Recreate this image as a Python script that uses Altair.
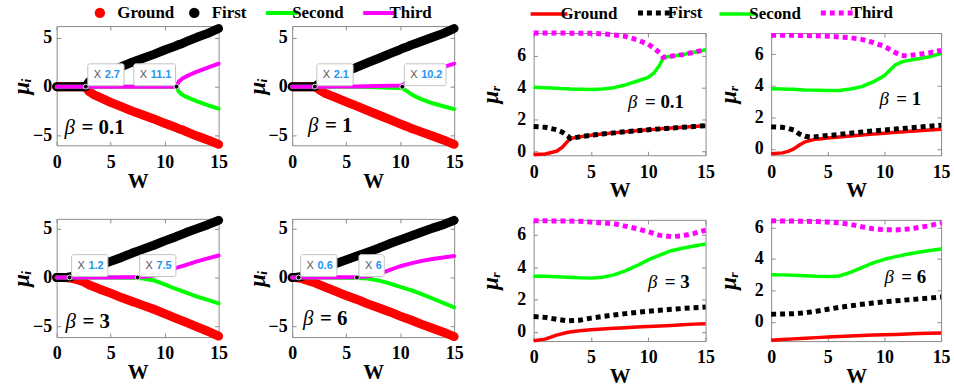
import altair as alt
import pandas as pd

SERIES = ["Ground", "First", "Second", "Third"]
COLORS = ["#ff0000", "#000000", "#00ff00", "#ff00ff"]
SERIF = "Liberation Serif"
SANS = "Liberation Sans"
X_TICKS = [0, 5, 10, 15]

# ---------------- imaginary parts mu_i versus W ----------------
# beta = 0.1
W_I01 = [0, 1, 2, 2.7, 3, 3.5, 4, 5, 6, 7, 8, 9, 10, 11, 11.1, 11.3, 11.6, 12, 13, 14, 15]
GROUND_I01 = [0, 0, 0, 0, -0.5, -0.85, -1.1, -1.6, -2.05, -2.5, -2.9, -3.3, -3.75, -4.15, -4.2, -4.3, -4.4, -4.6, -5.05, -5.45, -5.9]
FIRST_I01 = [0, 0, 0, 0, 0.5, 0.85, 1.1, 1.6, 2.05, 2.5, 2.9, 3.3, 3.75, 4.15, 4.2, 4.3, 4.4, 4.6, 5.05, 5.45, 5.95]
SECOND_I01 = [0, 0, 0, 0, 0, 0, 0, 0, 0, 0, 0, 0, 0, 0, 0, -0.5, -0.8, -1.05, -1.5, -1.9, -2.25]
THIRD_I01 = [0, 0, 0, 0, 0, 0, 0, 0, 0, 0, 0, 0, 0, 0, 0, 0.5, 0.8, 1.05, 1.55, 1.95, 2.35]
TIPS_I01 = [2.7, 11.1]

# beta = 1
W_I1 = [0, 1, 2, 2.1, 2.5, 3, 4, 5, 6, 7, 8, 9, 10, 10.2, 10.7, 11, 11.5, 12, 13, 14, 15]
GROUND_I1 = [0, 0, 0, 0, -0.3, -0.65, -1.1, -1.55, -2.0, -2.45, -2.9, -3.35, -3.8, -3.9, -4.1, -4.25, -4.45, -4.65, -5.05, -5.45, -5.9]
FIRST_I1 = [0, 0, 0, 0, 0.3, 0.65, 1.1, 1.55, 2.0, 2.45, 2.9, 3.35, 3.8, 3.9, 4.1, 4.25, 4.45, 4.65, 5.05, 5.45, 5.95]
SECOND_I1 = [0, 0, 0, 0, 0, 0, -0.01, -0.01, -0.02, -0.04, -0.06, -0.1, -0.13, -0.15, -0.5, -0.75, -1.05, -1.3, -1.7, -2.0, -2.3]
THIRD_I1 = [0, 0, 0, 0, 0, 0, 0.01, 0.01, 0.02, 0.04, 0.06, 0.1, 0.13, 0.15, 0.5, 0.75, 1.05, 1.3, 1.7, 2.0, 2.35]
TIPS_I1 = [2.1, 10.2]

# beta = 3
W_I3 = [0, 0.5, 1, 1.2, 2, 2.5, 3, 4, 5, 6, 7, 7.5, 8, 9, 10, 11, 12, 13, 14, 15]
GROUND_I3 = [0, 0, -0.02, -0.05, -0.25, -0.45, -0.75, -1.2, -1.6, -2.05, -2.45, -2.65, -2.85, -3.25, -3.7, -4.15, -4.6, -5.05, -5.5, -6.0]
FIRST_I3 = [0, 0, 0.02, 0.05, 0.3, 0.55, 0.8, 1.25, 1.65, 2.05, 2.5, 2.7, 2.9, 3.3, 3.75, 4.15, 4.6, 5.0, 5.4, 5.85]
SECOND_I3 = [0, 0, 0, 0, 0, 0, 0, -0.01, -0.01, -0.02, -0.03, -0.05, -0.1, -0.3, -0.7, -1.15, -1.55, -1.95, -2.3, -2.65]
THIRD_I3 = [0, 0, 0, 0, 0, 0, 0, 0.01, 0.01, 0.02, 0.03, 0.05, 0.08, 0.2, 0.55, 0.95, 1.3, 1.65, 1.95, 2.25]
TIPS_I3 = [1.2, 7.5]

# beta = 6
W_I6 = [0, 0.3, 0.6, 1, 2, 3, 4, 5, 6, 7, 8, 9, 10, 11, 12, 13, 14, 15]
GROUND_I6 = [0, -0.01, -0.05, -0.15, -0.5, -0.95, -1.4, -1.85, -2.25, -2.7, -3.1, -3.5, -3.95, -4.35, -4.8, -5.2, -5.6, -6.05]
FIRST_I6 = [0, 0.01, 0.05, 0.15, 0.5, 0.95, 1.4, 1.8, 2.2, 2.6, 3.0, 3.45, 3.85, 4.25, 4.65, 5.05, 5.4, 5.85]
SECOND_I6 = [0, 0, 0, 0, -0.01, -0.01, -0.02, -0.04, -0.06, -0.1, -0.3, -0.6, -0.95, -1.3, -1.7, -2.15, -2.6, -3.05]
THIRD_I6 = [0, 0, 0, 0, 0.01, 0.01, 0.02, 0.03, 0.05, 0.12, 0.35, 0.75, 1.15, 1.45, 1.7, 1.9, 2.05, 2.2]
TIPS_I6 = [0.6, 6]

# ---------------- real parts mu_r versus W ----------------
# beta = 0.1
W_R01 = [0, 1, 2, 2.5, 3, 3.2, 4, 5, 6, 7, 8, 9, 10, 10.5, 11, 11.3, 11.6, 12, 13, 14, 15]
GROUND_R01 = [-0.2, -0.17, 0.0, 0.25, 0.65, 0.8, 0.9, 1.0, 1.08, 1.15, 1.22, 1.28, 1.34, 1.37, 1.4, 1.42, 1.43, 1.45, 1.5, 1.55, 1.6]
FIRST_R01 = [1.55, 1.5, 1.35, 1.2, 0.95, 0.8, 0.9, 1.0, 1.08, 1.15, 1.22, 1.28, 1.34, 1.37, 1.4, 1.42, 1.43, 1.45, 1.5, 1.55, 1.6]
SECOND_R01 = [4.0, 3.97, 3.94, 3.92, 3.91, 3.9, 3.88, 3.87, 3.9, 3.98, 4.15, 4.38, 4.62, 4.9, 5.4, 5.85, 5.9, 5.95, 6.05, 6.2, 6.35]
THIRD_R01 = [7.4, 7.4, 7.4, 7.4, 7.39, 7.39, 7.39, 7.38, 7.35, 7.28, 7.19, 6.98, 6.7, 6.46, 6.15, 5.88, 5.9, 5.95, 6.05, 6.2, 6.35]

# beta = 1
W_R1 = [0, 1, 1.5, 2, 2.5, 3, 3.5, 4, 5, 6, 7, 8, 9, 10, 10.5, 11, 11.5, 12, 13, 14, 15]
GROUND_R1 = [-0.3, -0.25, -0.15, 0.0, 0.25, 0.45, 0.55, 0.62, 0.7, 0.76, 0.82, 0.88, 0.94, 1.0, 1.03, 1.06, 1.08, 1.1, 1.15, 1.2, 1.25]
FIRST_R1 = [1.4, 1.37, 1.3, 1.2, 0.95, 0.8, 0.75, 0.78, 0.85, 0.92, 1.0, 1.07, 1.14, 1.2, 1.23, 1.26, 1.29, 1.32, 1.38, 1.44, 1.5]
SECOND_R1 = [3.81, 3.8, 3.79, 3.78, 3.76, 3.74, 3.73, 3.72, 3.7, 3.71, 3.8, 3.95, 4.25, 4.65, 5.0, 5.35, 5.5, 5.6, 5.72, 5.85, 6.05]
THIRD_R1 = [7.2, 7.2, 7.2, 7.2, 7.19, 7.19, 7.18, 7.18, 7.15, 7.1, 7.05, 6.95, 6.75, 6.5, 6.3, 6.1, 5.92, 5.9, 6.0, 6.1, 6.25]

# beta = 3
W_R3 = [0, 1, 2, 3, 4, 5, 6, 7, 8, 9, 10, 11, 12, 13, 14, 15]
GROUND_R3 = [-0.55, -0.45, -0.2, -0.02, 0.07, 0.13, 0.18, 0.22, 0.26, 0.3, 0.33, 0.37, 0.4, 0.44, 0.48, 0.51]
FIRST_R3 = [0.95, 0.9, 0.78, 0.68, 0.72, 0.85, 0.95, 1.05, 1.13, 1.21, 1.28, 1.34, 1.4, 1.45, 1.5, 1.54]
SECOND_R3 = [3.45, 3.44, 3.42, 3.39, 3.35, 3.33, 3.38, 3.53, 3.78, 4.1, 4.46, 4.76, 5.03, 5.18, 5.32, 5.44]
THIRD_R3 = [6.88, 6.88, 6.87, 6.87, 6.85, 6.8, 6.76, 6.7, 6.55, 6.4, 6.2, 5.98, 5.9, 5.95, 6.1, 6.3]

# beta = 6
W_R6 = [0, 1, 2, 3, 4, 5, 6, 7, 8, 9, 10, 11, 12, 13, 14, 15]
GROUND_R6 = [-1.16, -1.12, -1.08, -1.04, -1.0, -0.96, -0.93, -0.9, -0.87, -0.84, -0.82, -0.8, -0.77, -0.74, -0.72, -0.7]
FIRST_R6 = [0.49, 0.5, 0.52, 0.58, 0.68, 0.8, 0.92, 1.02, 1.12, 1.2, 1.28, 1.34, 1.4, 1.46, 1.52, 1.58]
SECOND_R6 = [3.0, 2.99, 2.97, 2.94, 2.9, 2.88, 2.92, 3.15, 3.45, 3.75, 3.98, 4.15, 4.3, 4.43, 4.54, 4.64]
THIRD_R6 = [6.43, 6.42, 6.41, 6.4, 6.38, 6.35, 6.3, 6.2, 6.05, 5.92, 5.86, 5.85, 5.9, 6.0, 6.12, 6.29]

COLOR_SCALE = alt.Scale(domain=SERIES, range=COLORS)
IS_DOT = "(datum.value === 'Ground' || datum.value === 'First')"
IS_DOTTED = "(datum.value === 'First' || datum.value === 'Third')"

LEFT_LEGEND = alt.Legend(
    orient="none", legendX=35, legendY=-22, direction="horizontal", title=None,
    padding=0, labelFont=SERIF, labelFontWeight="bold", labelFontSize=17,
    labelColor="black", labelOffset={"expr": f"{IS_DOT} ? 9 : 2"}, columnPadding=11,
    symbolType={"expr": f"{IS_DOT} ? 'circle' : 'stroke'"},
    symbolSize={"expr": f"{IS_DOT} ? 110 : 1024"},
    symbolFillColor={"expr": "datum.value === 'Ground' ? '#ff0000' : datum.value === 'First' ? '#000000' : 'transparent'"},
    symbolStrokeWidth={"expr": f"{IS_DOT} ? 0 : 4"},
)

RIGHT_LEGEND = alt.Legend(
    orient="none", legendX=7, legendY=-22, direction="horizontal", title=None,
    padding=0, labelFont=SERIF, labelFontWeight="bold", labelFontSize=17,
    labelColor="black", labelOffset=3, columnPadding=10, symbolType="stroke",
    symbolSize=1369,
    symbolDash={"expr": f"{IS_DOTTED} ? [5, 4] : [1, 0]"},
    symbolStrokeWidth={"expr": f"{IS_DOTTED} ? 5 : 3.5"},
)

# mark styles: thick marker-like traces for Ground/First on the mu_i panels
IMAG_STYLES = [
    dict(strokeWidth=9, strokeCap="round", strokeJoin="round"),
    dict(strokeWidth=9, strokeCap="round", strokeJoin="round"),
    dict(strokeWidth=4, strokeCap="round", strokeJoin="round"),
    dict(strokeWidth=4, strokeCap="round", strokeJoin="round"),
]
REAL_STYLES = [
    dict(strokeWidth=3.5, strokeCap="butt", strokeJoin="round"),
    dict(strokeWidth=5, strokeCap="butt", strokeDash=[5, 4]),
    dict(strokeWidth=3.5, strokeCap="butt", strokeJoin="round"),
    dict(strokeWidth=5, strokeCap="butt", strokeDash=[5, 4]),
]


def bottom_axis():
    return alt.Axis(
        orient="bottom", values=X_TICKS, offset=-4, tickSize=4, tickColor="#8a8a8a",
        domain=False, grid=False, labelFont=SERIF, labelFontWeight="bold",
        labelFontSize=18, labelColor="black", labelPadding=8, labelOverlap=False,
        labelFlush=False, title="W", titleFont=SERIF, titleFontSize=21,
        titleFontWeight="bold", titleColor="black", titlePadding=5,
        minExtent=24, maxExtent=24,
    )


def left_axis(values, title, label_pad, extent):
    return alt.Axis(
        orient="left", values=values, offset=-4, tickSize=4, tickColor="#8a8a8a",
        domain=False, grid=False, labelFont=SERIF, labelFontWeight="bold",
        labelFontSize=18, labelColor="black", labelPadding=label_pad,
        labelOverlap=False, labelFlush=False, title=title, titleFont=SERIF,
        titleFontSize=23, titleFontWeight="bold", titleFontStyle="italic",
        titleColor="black", titlePadding=5, minExtent=extent, maxExtent=extent,
    )


def mirror_axis(orient, values):
    return alt.Axis(
        orient=orient, values=values, offset=-4, tickSize=4, tickColor="#8a8a8a",
        domain=False, grid=False, labels=False, title=None,
    )


def panel(w, curves, ydom, yvals, width, height, ytitle, styles, legend,
          label_pad, extent, beta, beta_xy, beta_size, tips=None):
    xs = alt.Scale(domain=[0, 15], nice=False, zero=False)
    ys = alt.Scale(domain=ydom, nice=False, zero=False)
    layers = []
    for i, (name, vals, st) in enumerate(zip(SERIES, curves, styles)):
        df = pd.DataFrame({"W": w, "mu": vals, "series": name})
        layers.append(
            alt.Chart(df).mark_line(**st).encode(
                x=alt.X("W:Q", scale=xs, axis=bottom_axis() if i == 0 else None),
                y=alt.Y("mu:Q", scale=ys,
                        axis=left_axis(yvals, ytitle, label_pad, extent) if i == 0 else None),
                color=alt.Color("series:N", scale=COLOR_SCALE, legend=legend),
            )
        )

    # tick marks on the top and right edges of the box
    mid = pd.DataFrame({"W": [7.5], "mu": [(ydom[0] + ydom[1]) / 2]})
    layers.append(
        alt.Chart(mid).mark_circle(size=1, opacity=0).encode(
            x=alt.X("W:Q", axis=mirror_axis("top", X_TICKS)),
            y=alt.Y("mu:Q", axis=mirror_axis("right", yvals)),
        )
    )

    if tips:
        ppu = width / 15.0
        tip_df = pd.DataFrame({"W": tips, "mu": [0.0] * len(tips)})
        tip = (
            alt.Chart(tip_df)
            .transform_calculate(label="'' + datum.W")
            .transform_calculate(bw="20 + 5.5 * length(datum.label)")
            .transform_calculate(flip=f"datum.W * {ppu} + 3 + datum.bw > {width}")
            .transform_calculate(x0=f"datum.flip ? datum.W - (datum.bw + 1) / {ppu} : datum.W + 2 / {ppu}")
            .transform_calculate(x1=f"datum.x0 + datum.bw / {ppu}")
        )
        layers.append(
            tip.mark_rect(fill="white", stroke="#c4c4c4", strokeWidth=1,
                          cornerRadius=2, yOffset=-1, y2Offset=-23).encode(
                x=alt.X("x0:Q", axis=None), x2="x1:Q",
                y=alt.Y("mu:Q", axis=None), y2="mu:Q",
            )
        )
        layers.append(
            tip.mark_text(align="left", baseline="middle", dx=6, dy=-12,
                          font=SANS, fontSize=11, color="#555555").encode(
                x=alt.X("x0:Q", axis=None), y=alt.Y("mu:Q", axis=None),
                text=alt.value("X"),
            )
        )
        layers.append(
            tip.mark_text(align="left", baseline="middle", dx=17, dy=-12,
                          font=SANS, fontSize=11, fontWeight="bold",
                          color="#2196f3").encode(
                x=alt.X("x0:Q", axis=None), y=alt.Y("mu:Q", axis=None),
                text="label:N",
            )
        )
        layers.append(
            tip.mark_circle(size=24, color="black", opacity=1, stroke="#dddddd",
                            strokeWidth=1).encode(
                x=alt.X("W:Q", axis=None), y=alt.Y("mu:Q", axis=None),
            )
        )

    bx, by = beta_xy
    dummy = pd.DataFrame({"k": [0]})
    layers.append(
        alt.Chart(dummy).mark_text(align="left", baseline="middle", font=SERIF,
                                   fontSize=beta_size, fontStyle="italic",
                                   color="black").encode(
            x=alt.value(bx), y=alt.value(by), text=alt.value("β"))
    )
    layers.append(
        alt.Chart(dummy).mark_text(align="left", baseline="middle", font=SERIF,
                                   fontSize=beta_size, fontWeight="bold",
                                   color="black").encode(
            x=alt.value(bx + 17), y=alt.value(by), text=alt.value(f"= {beta}"))
    )

    return alt.layer(*layers).resolve_axis(x="independent", y="independent").properties(
        width=width, height=height)


def imag_panel(w, curves, ydom, height, beta, beta_xy, tips):
    return panel(w, curves, ydom, [-5, 0, 5], 163, height, "μᵢ", IMAG_STYLES,
                 LEFT_LEGEND, 5, 22, beta, beta_xy, 21, tips)


def real_panel(w, curves, ydom, width, height, beta, beta_xy):
    return panel(w, curves, ydom, [0, 2, 4, 6], width, height, "μᵣ", REAL_STYLES,
                 RIGHT_LEGEND, 8, 30, beta, beta_xy, 19)


p1 = imag_panel(W_I01, [GROUND_I01, FIRST_I01, SECOND_I01, THIRD_I01], [-6.0, 6.2], 120, "0.1", (8, 103), TIPS_I01)
p2 = imag_panel(W_I1, [GROUND_I1, FIRST_I1, SECOND_I1, THIRD_I1], [-6.0, 6.2], 120, "1", (16, 101), TIPS_I1)
p3 = imag_panel(W_I3, [GROUND_I3, FIRST_I3, SECOND_I3, THIRD_I3], [-6.1, 6.0], 119, "3", (9, 104), TIPS_I3)
p4 = imag_panel(W_I6, [GROUND_I6, FIRST_I6, SECOND_I6, THIRD_I6], [-6.1, 6.0], 119, "6", (11, 101), TIPS_I6)

p5 = real_panel(W_R01, [GROUND_R01, FIRST_R01, SECOND_R01, THIRD_R01], [-0.25, 7.4], 173, 123, "0.1", (95, 69))
p6 = real_panel(W_R1, [GROUND_R1, FIRST_R1, SECOND_R1, THIRD_R1], [-0.4, 7.35], 171, 123, "1", (109, 66))
p7 = real_panel(W_R3, [GROUND_R3, FIRST_R3, SECOND_R3, THIRD_R3], [-0.57, 6.94], 173, 122, "3", (115, 63))
p8 = real_panel(W_R6, [GROUND_R6, FIRST_R6, SECOND_R6, THIRD_R6], [-1.22, 6.49], 171, 122, "6", (114, 58))

# an empty strip that drops the mu_r block a few pixels below the mu_i block
strip = alt.Chart(pd.DataFrame({"k": [0]})).mark_point(opacity=0).properties(
    width=1, height=1, view=alt.ViewBackground(strokeOpacity=0))

left = alt.hconcat(alt.vconcat(p1, p3, spacing=23), alt.vconcat(p2, p4, spacing=23), spacing=17)
right = alt.vconcat(
    strip,
    alt.hconcat(alt.vconcat(p5, p7, spacing=8), alt.vconcat(p6, p8, spacing=8), spacing=0),
    spacing=-8,
)

chart = (
    alt.hconcat(left, right, spacing=15)
    .resolve_scale(color="independent")
    .properties(padding={"left": 10, "top": 3, "right": 2, "bottom": 2}, background="white")
    .configure_view(stroke="#8a8a8a", strokeWidth=1)
)

chart.save("out.html", embed_options={"renderer": "svg", "actions": False})
